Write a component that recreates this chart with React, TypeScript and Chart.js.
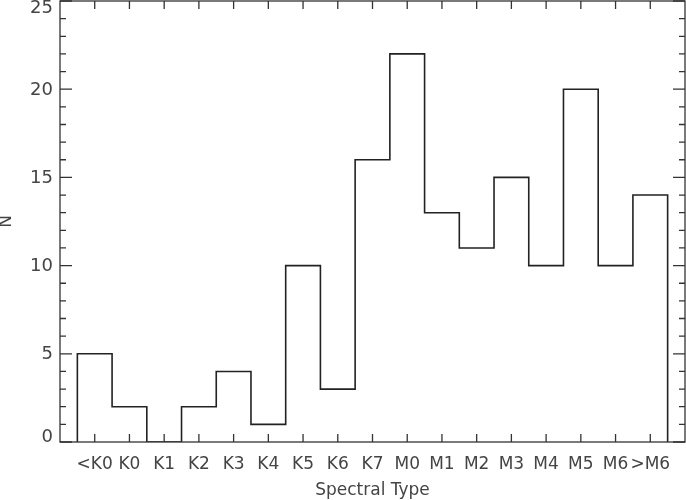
import React, { useEffect, useRef } from "react";
import { Chart, registerables } from "chart.js";

Chart.register(...registerables);

const categories = ["<K0", "K0", "K1", "K2", "K3", "K4", "K5", "K6", "K7", "M0", "M1", "M2", "M3", "M4", "M5", "M6", ">M6"];
const counts = [5, 2, 0, 2, 4, 1, 10, 3, 16, 22, 13, 11, 15, 10, 20, 10, 14];
const yTickValues = [0, 5, 10, 15, 20, 25];
const yMin = 0;
const yMax = 25;
const yMajorStep = 5;
const yMinorStep = 1;
const xTitle = "Spectral Type";
const yTitle = "N";

const INK = "#333";
const TEXT = "#444";
const FONT = "'DejaVu Sans', 'Liberation Sans', sans-serif";

function stepPoints() {
  const pts: { x: number; y: number }[] = [{ x: -0.5, y: 0 }];
  counts.forEach((v, i) => {
    pts.push({ x: i - 0.5, y: v });
    pts.push({ x: i + 0.5, y: v });
  });
  pts.push({ x: counts.length - 0.5, y: 0 });
  return pts;
}

const framePlugin = {
  id: "idlFrame",
  afterDatasetsDraw(chart: any) {
    const { ctx, chartArea: a, scales } = chart;
    const xs = scales.x;
    const ys = scales.y;
    ctx.save();
    ctx.strokeStyle = INK;
    ctx.lineWidth = 1.3;
    ctx.strokeRect(a.left, a.top, a.right - a.left, a.bottom - a.top);
    ctx.beginPath();
    for (let v = yMin; v <= yMax; v += yMinorStep) {
      const y = ys.getPixelForValue(v);
      const len = v % yMajorStep === 0 ? 12 : 6;
      ctx.moveTo(a.left, y);
      ctx.lineTo(a.left + len, y);
      ctx.moveTo(a.right, y);
      ctx.lineTo(a.right - len, y);
    }
    for (let i = 0; i < categories.length; i++) {
      const x = xs.getPixelForValue(i);
      ctx.moveTo(x, a.bottom);
      ctx.lineTo(x, a.bottom - 8);
      ctx.moveTo(x, a.top);
      ctx.lineTo(x, a.top + 8);
    }
    ctx.stroke();

    // y tick labels (kept inside the window at the ends, like the original)
    ctx.fillStyle = TEXT;
    ctx.font = `18px ${FONT}`;
    ctx.textAlign = "right";
    ctx.textBaseline = "middle";
    for (const v of yTickValues) {
      const py = ys.getPixelForValue(v) + 1;
      const y = Math.min(Math.max(py, a.top + 7), a.bottom - 5);
      ctx.fillText(String(v), a.left - 7, y);
    }
    ctx.restore();
  },
};

export default function App() {
  const ref = useRef<HTMLCanvasElement | null>(null);
  useEffect(() => {
    document.body.style.margin = "0";
    const canvas = ref.current;
    if (!canvas) return;
    const chart = new Chart(canvas, {
      type: "line",
      data: {
        datasets: [
          {
            data: stepPoints(),
            borderColor: "#222",
            borderWidth: 1.6,
            pointRadius: 0,
            fill: false,
            tension: 0,
          },
        ],
      },
      options: {
        responsive: false,
        animation: false,
        layout: { padding: { top: 1, right: 1, left: 0, bottom: 0 } },
        plugins: { legend: { display: false }, tooltip: { enabled: false } },
        scales: {
          x: {
            type: "linear",
            min: -1,
            max: categories.length,
            grid: { display: false, drawTicks: false },
            border: { display: false },
            ticks: {
              stepSize: 1,
              autoSkip: false,
              maxRotation: 0,
              padding: 12,
              color: TEXT,
              font: { family: FONT, size: 17 },
              callback: (v: any) => categories[v] ?? "",
            },
            title: {
              display: true,
              text: xTitle,
              color: TEXT,
              font: { family: FONT, size: 17, lineHeight: 1 },
              padding: { top: 0, bottom: 1 },
            },
            afterFit: (s: any) => {
              s.height = 58;
              s.paddingLeft = 0;
              s.paddingRight = 0;
            },
          },
          y: {
            type: "linear",
            min: yMin,
            max: yMax,
            grid: { display: false, drawTicks: false },
            border: { display: false },
            ticks: {
              display: false,
              stepSize: yMajorStep,
            },
            title: {
              display: true,
              text: yTitle,
              color: TEXT,
              font: { family: FONT, size: 17, lineHeight: 1 },
              padding: { top: -2, bottom: 0 },
            },
            afterFit: (s: any) => {
              s.width = 60;
              s.paddingTop = 0;
              s.paddingBottom = 0;
            },
          },
        },
      },
      plugins: [framePlugin],
    } as any);
    return () => chart.destroy();
  }, []);
  return (
    <div style={{ width: 686, height: 500 }}>
      <canvas ref={ref} width={686} height={500} style={{ display: "block" }} />
    </div>
  );
}
